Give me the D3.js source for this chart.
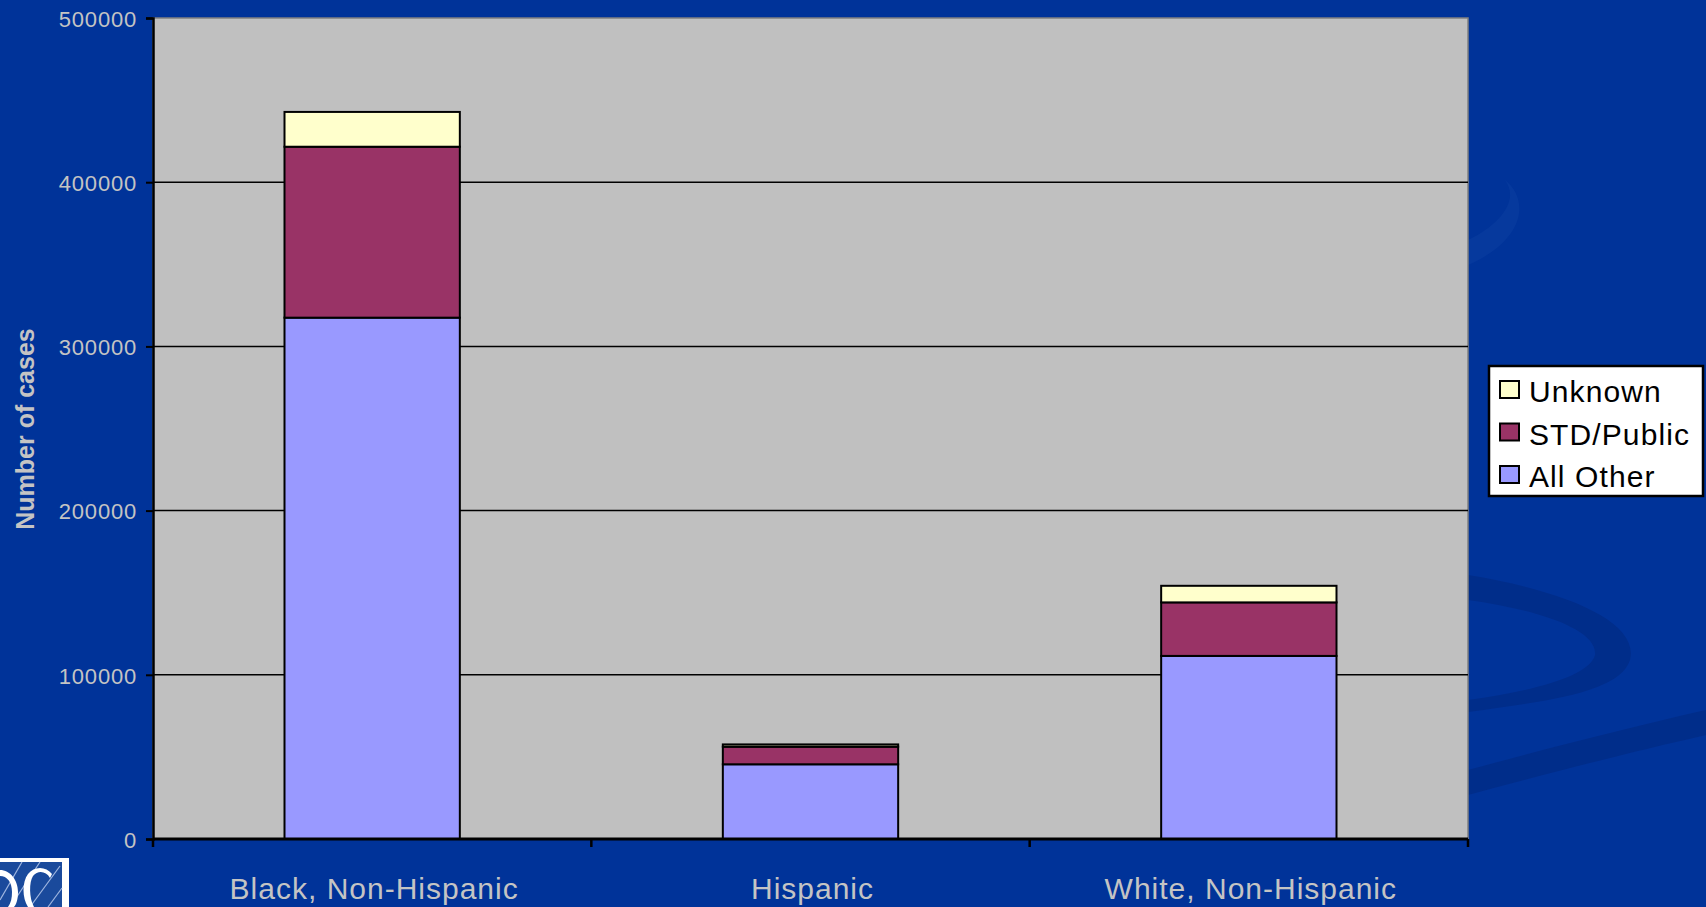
<!DOCTYPE html>
<html>
<head>
<meta charset="utf-8">
<script src="https://cdn.jsdelivr.net/npm/d3@7"></script>
<style>
  html, body { margin: 0; padding: 0; background: #003399; }
  svg { display: block; }
</style>
</head>
<body>
<svg id="chart" width="1706" height="907"></svg>
<script>
// Cases by race/ethnicity, split by reporting source
const categories = ["Black, Non-Hispanic", "Hispanic", "White, Non-Hispanic"];
const allOther  = [317500, 45500, 111500];
const stdPublic = [104100, 10700, 32600];
const unknown   = [21200, 1400, 10100];
const yTicks = [0, 100000, 200000, 300000, 400000, 500000];
const seriesNames = ["All Other", "STD/Public", "Unknown"];
const seriesColors = ["#9999ff", "#993366", "#ffffcc"];

const svg = d3.select("#chart");
const W = 1706, H = 907;
const plot = { left: 153, right: 1468, top: 18, bottom: 839 };
const textColor = "#c4c4c4";

// slide background
svg.append("rect").attr("width", W).attr("height", H).attr("fill", "#003399");
const deco = svg.append("g");
deco.append("path")
  .attr("d", "M1468,575 C1560,590 1640,620 1630,660 C1620,690 1560,700 1468,712 L1468,700 C1540,690 1590,675 1595,655 C1598,630 1540,610 1468,600 Z")
  .attr("fill", "#002c86").attr("opacity", 0.8);
deco.append("path")
  .attr("d", "M1468,770 C1560,745 1640,725 1706,710 L1706,735 C1640,750 1560,770 1468,795 Z")
  .attr("fill", "#002c86").attr("opacity", 0.8);
deco.append("path")
  .attr("d", "M1468,240 C1500,225 1520,200 1505,180 C1530,200 1525,240 1468,265 Z")
  .attr("fill", "#0a3da0").attr("opacity", 0.6);

// scales
const x = d3.scaleBand().domain(categories).range([plot.left, plot.right]).padding(0);
const y = d3.scaleLinear().domain([0, 500000]).range([plot.bottom, plot.top]);
const barW = x.bandwidth() * 0.4;

// plot area
svg.append("rect")
  .attr("x", plot.left).attr("y", plot.top)
  .attr("width", plot.right - plot.left).attr("height", plot.bottom - plot.top)
  .attr("fill", "#c0c0c0").attr("stroke", "#808080").attr("stroke-width", 1.5);

// gridlines
svg.append("g").selectAll("line")
  .data(yTicks.filter(d => d > 0 && d < 500000))
  .join("line")
  .attr("x1", plot.left).attr("x2", plot.right)
  .attr("y1", d => y(d)).attr("y2", d => y(d))
  .attr("stroke", "#000").attr("stroke-width", 1.5);

// stacked bars
const rows = categories.map((c, i) => ({ cat: c, "All Other": allOther[i], "STD/Public": stdPublic[i], "Unknown": unknown[i] }));
const stack = d3.stack().keys(seriesNames)(rows);
stack.forEach((layer, li) => {
  svg.append("g").selectAll("rect")
    .data(layer)
    .join("rect")
    .attr("x", d => x(d.data.cat) + (x.bandwidth() - barW) / 2)
    .attr("y", d => y(d[1]))
    .attr("width", barW)
    .attr("height", d => y(d[0]) - y(d[1]))
    .attr("fill", seriesColors[li])
    .attr("stroke", "#000").attr("stroke-width", 2);
});

// y axis
const yAxis = svg.append("g").attr("transform", `translate(${plot.left},0)`)
  .call(d3.axisLeft(y).tickValues(yTicks).tickSize(7).tickFormat(d3.format("d")));
yAxis.select(".domain").attr("stroke", "#000").attr("stroke-width", 2.5);
yAxis.selectAll(".tick line").attr("stroke", "#000").attr("stroke-width", 2);
yAxis.selectAll(".tick text")
  .attr("x", -16).attr("dy", "0.38em")
  .attr("fill", textColor)
  .attr("font-family", "Liberation Sans, Arial, sans-serif")
  .attr("font-size", 22).attr("letter-spacing", 0.8);

// x axis (ticks at category boundaries)
const xAxis = svg.append("g").attr("transform", `translate(0,${plot.bottom})`);
xAxis.append("line")
  .attr("x1", plot.left).attr("x2", plot.right)
  .attr("stroke", "#000").attr("stroke-width", 3);
const bounds = categories.map(c => x(c)).concat([plot.right]);
xAxis.selectAll("line.tk").data(bounds).join("line").attr("class", "tk")
  .attr("x1", d => d).attr("x2", d => d).attr("y1", 0).attr("y2", 8)
  .attr("stroke", "#000").attr("stroke-width", 2.5);
xAxis.selectAll("text").data(categories).join("text")
  .attr("x", d => x(d) + x.bandwidth() / 2 + 2)
  .attr("y", 60)
  .attr("text-anchor", "middle")
  .attr("fill", textColor)
  .attr("font-family", "Liberation Sans, Arial, sans-serif")
  .attr("font-size", 30).attr("letter-spacing", 1)
  .text(d => d);

// y title
svg.append("text")
  .attr("transform", "translate(34,429) rotate(-90)")
  .attr("text-anchor", "middle")
  .attr("fill", textColor)
  .attr("font-family", "Liberation Sans, Arial, sans-serif")
  .attr("font-weight", "bold")
  .attr("font-size", 25)
  .text("Number of cases");

// legend
const lg = svg.append("g").attr("transform", "translate(1489,366)");
lg.append("rect").attr("width", 214).attr("height", 130)
  .attr("fill", "#fff").attr("stroke", "#000").attr("stroke-width", 2.5);
const legendOrder = [2, 1, 0];
legendOrder.forEach((si, r) => {
  const g = lg.append("g").attr("transform", `translate(11,${15 + r * 42.5})`);
  g.append("rect").attr("width", 19).attr("height", 17)
    .attr("fill", seriesColors[si]).attr("stroke", "#000").attr("stroke-width", 2);
  g.append("text").attr("x", 29).attr("y", 21)
    .attr("fill", "#000")
    .attr("font-family", "Liberation Sans, Arial, sans-serif")
    .attr("font-size", 30).attr("letter-spacing", 1.1)
    .text(seriesNames[si]);
});

// agency logo corner
const logo = svg.append("g");
logo.append("rect").attr("x", 0).attr("y", 858).attr("width", 69).attr("height", 49).attr("fill", "#fff");
logo.append("rect").attr("x", 0).attr("y", 862).attr("width", 62).attr("height", 45).attr("fill", "#1a4a9c");
[[0, 900, 22, 862], [10, 907, 40, 862], [30, 907, 60, 866], [48, 907, 62, 888]].forEach(s => {
  logo.append("line").attr("x1", s[0]).attr("y1", s[1]).attr("x2", s[2]).attr("y2", s[3])
    .attr("stroke", "#9fb6e0").attr("stroke-width", 1.2);
});
// partial letter shapes of the emblem
logo.append("path")
  .attr("d", "M52,874 C46,866 34,866 28,874 C22,882 22,898 28,907 L34,907 C29,898 29,882 33,876 C38,870 46,871 50,878 Z")
  .attr("fill", "#fff");
logo.append("path")
  .attr("d", "M0,870 C10,870 18,880 18,892 C18,900 16,905 14,907 L8,907 C11,903 12,898 12,892 C12,882 7,876 0,876 Z")
  .attr("fill", "#fff");
</script>
</body>
</html>
